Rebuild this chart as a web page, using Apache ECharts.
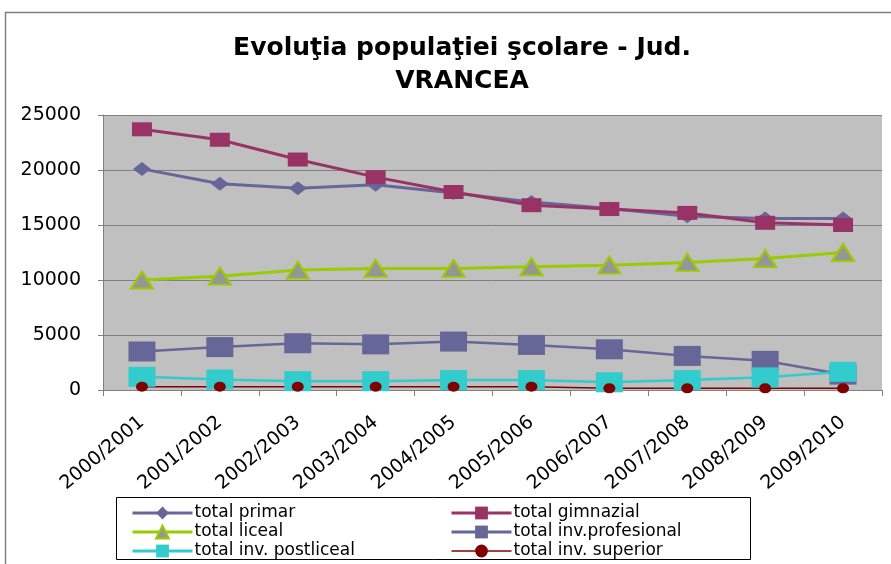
<!DOCTYPE html>
<html>
<head>
<meta charset="utf-8">
<script src="https://cdn.jsdelivr.net/npm/echarts@6/dist/echarts.min.js"></script>
<style>html,body{margin:0;padding:0;background:#fff;}#c{width:891px;height:564px;}</style>
</head>
<body>
<div id="c"></div>
<script>
const categories = ['2000/2001','2001/2002','2002/2003','2003/2004','2004/2005','2005/2006','2006/2007','2007/2008','2008/2009','2009/2010'];
const yTicks = [0, 5000, 10000, 15000, 20000, 25000];
const totalPrimar = [20100, 18750, 18350, 18650, 17900, 17100, 16500, 15800, 15600, 15600];
const totalGimnazial = [23700, 22750, 20950, 19350, 18000, 16800, 16450, 16100, 15200, 15000];
const totalLiceal = [10000, 10350, 10900, 11050, 11050, 11200, 11350, 11600, 11950, 12500];
const totalProfesional = [3500, 3900, 4250, 4150, 4400, 4100, 3700, 3100, 2650, 1400];
const totalPostliceal = [1200, 950, 800, 800, 900, 900, 700, 900, 1150, 1650];
const totalSuperior = [300, 300, 300, 300, 300, 300, 150, 150, 150, 150];

const chart = echarts.init(document.getElementById('c'));
const F = 'DejaVu Sans';
function mk(name, data, color, symbol, size, lw, opts) {
  return Object.assign({
    name, type: 'line', data, symbol, symbolSize: size,
    lineStyle: { color, width: lw },
    itemStyle: { color, borderWidth: 0 },
    animation: false
  }, opts || {});
}
const legendCommon = {
  orient: 'vertical', top: 504, height: 80, itemWidth: 60, itemHeight: 16, itemGap: 1,
  padding: 0,
  textStyle: { fontFamily: F, fontSize: 17, color: '#000', lineHeight: 18, padding: [0, 0, 0, -3] }, z: 5
};
chart.setOption({
  backgroundColor: '#fff',
  animation: false,
  title: {
    text: 'Evoluţia populaţiei şcolare - Jud.\nVRANCEA',
    left: 457, textAlign: 'center', top: 27,
    textStyle: { fontFamily: F, fontSize: 25, fontWeight: 'bold', color: '#000', lineHeight: 33 }
  },
  graphic: [
    { type: 'rect', shape: { x: 5.5, y: 12.5, width: 1000, height: 1000 }, style: { fill: 'none', stroke: '#808080', lineWidth: 1.5 }, silent: true },
    { type: 'rect', shape: { x: 116.5, y: 497.5, width: 634, height: 62 }, style: { fill: '#fff', stroke: '#000', lineWidth: 1 }, silent: true, z: 0 }
  ],
  grid: { left: 103, right: 9, top: 115, bottom: 174, show: true, backgroundColor: '#C0C0C0', borderWidth: 0 },
  legend: [
    Object.assign({ data: [
      { name: 'total primar', lineStyle: { width: 3 } },
      { name: 'total liceal', lineStyle: { width: 3 } },
      { name: 'total inv. postliceal', lineStyle: { width: 3 } }
    ], left: 131 }, legendCommon),
    Object.assign({ data: [
      { name: 'total gimnazial', lineStyle: { width: 3 } },
      { name: 'total inv.profesional', lineStyle: { width: 3 } },
      { name: 'total inv. superior', lineStyle: { width: 1.5 } }
    ], left: 450 }, legendCommon)
  ],
  xAxis: {
    type: 'category', data: categories, boundaryGap: true,
    axisLine: { lineStyle: { color: '#808080', width: 1 } },
    axisTick: { show: true, length: 6, lineStyle: { color: '#808080' } },
    axisLabel: { rotate: 40, margin: 30, fontFamily: F, fontSize: 19, color: '#000', interval: 0 }
  },
  yAxis: {
    type: 'value', min: 0, max: 25000, interval: 5000,
    axisLine: { show: true, lineStyle: { color: '#808080' } },
    axisTick: { show: true, length: 5, lineStyle: { color: '#808080' } },
    splitLine: { show: true, lineStyle: { color: '#808080', width: 1 } },
    axisLabel: { margin: 22, fontFamily: F, fontSize: 19, color: '#000',
      formatter: v => yTicks.includes(v) ? String(v) : '' }
  },
  series: [
    mk('total primar', totalPrimar, '#666699', 'diamond', [18, 14], 3),
    mk('total gimnazial', totalGimnazial, '#993366', 'rect', [20, 14], 3),
    mk('total liceal', totalLiceal, '#99CC00', 'triangle', [22, 17], 3,
      { itemStyle: { color: '#969696', borderColor: '#99CC00', borderWidth: 2 } }),
    mk('total inv.profesional', totalProfesional, '#666699', 'rect', [27, 20], 2.5),
    mk('total inv. postliceal', totalPostliceal, '#33CCCC', 'rect', [27, 20], 2.5),
    mk('total inv. superior', totalSuperior, '#800000', 'circle', [12, 10], 1.5)
  ]
});
</script>
</body>
</html>
